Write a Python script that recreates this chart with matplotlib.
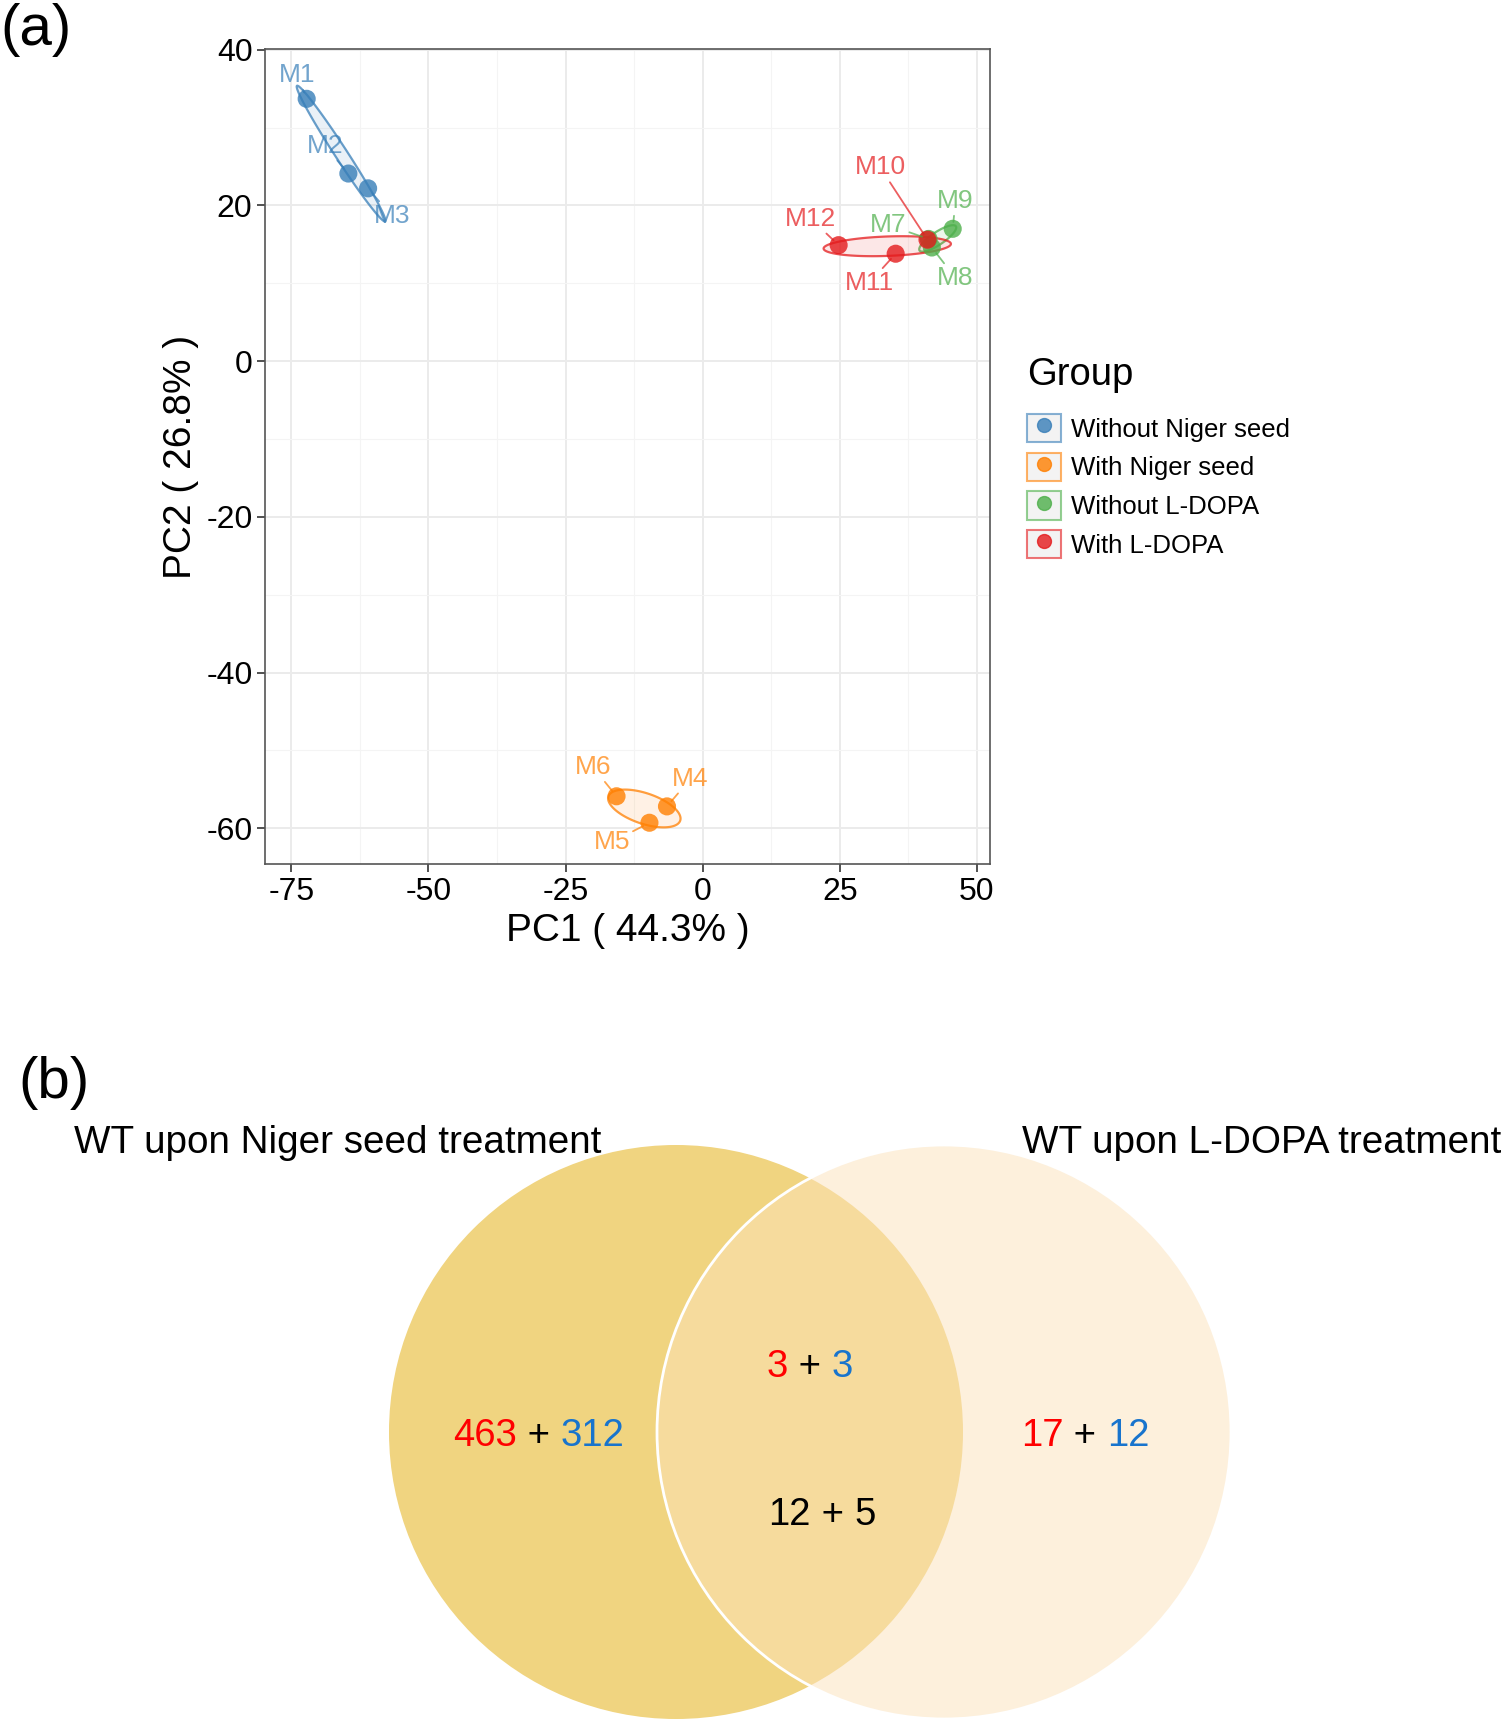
import numpy as np
import matplotlib.pyplot as plt
from matplotlib.patches import Circle, Polygon, Patch
from matplotlib.lines import Line2D
from matplotlib.offsetbox import TextArea, HPacker, AnnotationBbox

plt.rcParams['font.family'] = ['Liberation Sans', 'DejaVu Sans']
plt.rcParams['axes.unicode_minus'] = False

# ---- PCA data ----
samples = ['M1', 'M2', 'M3', 'M4', 'M5', 'M6',
           'M7', 'M8', 'M9', 'M10', 'M11', 'M12']
pc1 = [-72.2, -64.6, -61.0, -6.5, -9.7, -15.7,
       41.2, 41.8, 45.6, 41.0, 35.2, 24.8]
pc2 = [33.7, 24.1, 22.2, -57.2, -59.3, -55.9,
       15.7, 14.6, 17.0, 15.6, 13.8, 14.9]
sample_group = ['Without Niger seed'] * 3 + ['With Niger seed'] * 3 + \
               ['Without L-DOPA'] * 3 + ['With L-DOPA'] * 3
groups = ['Without Niger seed', 'With Niger seed', 'Without L-DOPA', 'With L-DOPA']
group_colors = ['#377EB8', '#FF7F00', '#4DAF4A', '#E41A1C']

# label offsets (points) like ggrepel put them
label_offsets = [(-7, 17), (-17, 20), (17, -20), (17, 20), (-27, -14), (-17, 21),
                 (-29, 10), (17, -22), (2, 20), (-34, 52), (-19, -21), (-20, 19)]

# ---- Venn data ----
venn_titles = ['WT upon Niger seed treatment', 'WT upon L-DOPA treatment']
niger_only = [463, 312]
shared_a = [3, 3]
shared_b = [12, 5]
ldopa_only = [17, 12]

W, H = 1502, 1723
fig = plt.figure(figsize=(W / 100, H / 100), dpi=100)

# background axes in pixel units for panel labels and the venn diagram
bg = fig.add_axes([0, 0, 1, 1])
bg.set_xlim(0, W)
bg.set_ylim(H, 0)
bg.axis('off')

ax = fig.add_axes([265 / W, 1 - 864 / H, (990 - 265) / W, (864 - 49) / H])
ax.set_xlim(-79.8, 52.4)
ax.set_ylim(-64.6, 40.1)


def ellipse_xy(xs, ys, level=0.5, n=200):
    # normal-theory ellipse like ggplot2 stat_ellipse
    pts = np.column_stack([xs, ys])
    c = pts.mean(axis=0)
    cov = np.cov(pts.T)
    d = len(xs) - 1
    q = d / 2 * ((1 - level) ** (-2 / d) - 1)
    r = np.sqrt(2 * q)
    vals, vecs = np.linalg.eigh(cov)
    t = np.linspace(0, 2 * np.pi, n)
    circ = np.column_stack([np.cos(t), np.sin(t)])
    return c + r * (circ * np.sqrt(vals)) @ vecs.T


pc1 = np.array(pc1)
pc2 = np.array(pc2)
sg = np.array(sample_group)

for g, col in zip(groups, group_colors):
    m = sg == g
    ell = ellipse_xy(pc1[m], pc2[m])
    ax.add_patch(Polygon(ell, closed=True, facecolor=col, alpha=0.1, edgecolor='none', zorder=2))
    ax.add_patch(Polygon(ell, closed=True, facecolor='none', edgecolor=col, alpha=0.75, lw=1.6, zorder=2))
    ax.scatter(pc1[m], pc2[m], s=170, color=col, alpha=0.8, edgecolors='none', zorder=3)

for i, name in enumerate(samples):
    col = group_colors[groups.index(sample_group[i])]
    ax.annotate(name, (pc1[i], pc2[i]), xytext=label_offsets[i], textcoords='offset points',
                ha='center', va='center', fontsize=19, color=col, alpha=0.7,
                arrowprops=dict(arrowstyle='-', color=col, alpha=0.7, lw=1.3,
                                shrinkA=0, shrinkB=5), zorder=4)

ax.set_xticks([-75, -50, -25, 0, 25, 50])
ax.set_yticks([-60, -40, -20, 0, 20, 40])
ax.set_xticks([-62.5, -37.5, -12.5, 12.5, 37.5], minor=True)
ax.set_yticks([-50, -30, -10, 10, 30], minor=True)
ax.grid(which='major', color='#EBEBEB', lw=1.4, zorder=0)
ax.grid(which='minor', color='#F4F4F4', lw=0.8, zorder=0)
ax.set_axisbelow(True)
ax.tick_params(which='major', length=6, width=1.2, color='#333333', labelsize=23, pad=3)
ax.tick_params(which='minor', length=0)
for s in ax.spines.values():
    s.set_color('#555555')
    s.set_linewidth(1.2)
ax.set_xlabel('PC1 ( 44.3% )', fontsize=28, labelpad=5)
ax.set_ylabel('PC2 ( 26.8% )', fontsize=28, labelpad=5)

# legend: title drawn as text, keys as boxes with a dot
bg.text(1027, 375, 'Group', fontsize=27.5, ha='left', va='center')
handles = [(Patch(facecolor='#EBEBEB', edgecolor=c, alpha=0.6, lw=1.5),
            Line2D([], [], marker='o', ls='', color=c, alpha=0.8, markersize=10))
           for c in group_colors]
fig.legend(handles, groups, loc='upper left',
           bbox_to_anchor=(1027 / W, 1 - 414 / H), bbox_transform=fig.transFigure,
           frameon=False, fontsize=18.5,
           handlelength=1.32, handleheight=1.32, labelspacing=0.4, handletextpad=0.4,
           borderpad=0, borderaxespad=0)

# ---- panel (b): venn ----
r = 287
bg.add_patch(Circle((676, 1432), r, facecolor='#F0D480', edgecolor='none', zorder=1))
bg.add_patch(Circle((944, 1432), r, facecolor='#FCE2BA', alpha=0.5, edgecolor='none', zorder=2))
bg.add_patch(Circle((944, 1432), r, facecolor='none', edgecolor='white', lw=2, zorder=3))

bg.text(0, 30, '(a)', fontsize=42, ha='left', va='center')
bg.text(18, 1083, '(b)', fontsize=42, ha='left', va='center')
bg.text(74, 1143, venn_titles[0], fontsize=27.8, ha='left', va='center')
bg.text(1501, 1143, venn_titles[1], fontsize=27.8, ha='right', va='center')


def two_numbers(x, y, pair, c1, c2):
    kw = dict(fontsize=27.5)
    parts = [TextArea(str(pair[0]), textprops=dict(color=c1, **kw)),
             TextArea(' + ', textprops=dict(color='black', **kw)),
             TextArea(str(pair[1]), textprops=dict(color=c2, **kw))]
    box = HPacker(children=parts, align='baseline', pad=0, sep=0)
    bg.add_artist(AnnotationBbox(box, (x, y), xycoords='data', frameon=False,
                                 box_alignment=(0.5, 0.5), pad=0, zorder=5))


red, blue = '#FF0000', '#1874CD'
two_numbers(539, 1436, niger_only, red, blue)
two_numbers(810, 1367, shared_a, red, blue)
two_numbers(822, 1515, shared_b, 'black', 'black')
two_numbers(1085, 1436, ldopa_only, red, blue)

fig.savefig('out.png', dpi=100)
